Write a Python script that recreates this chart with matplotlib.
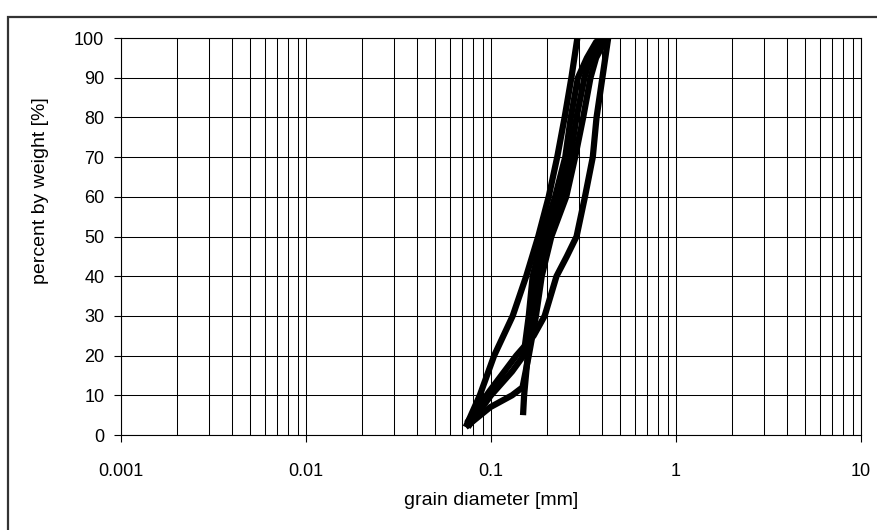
import matplotlib
matplotlib.use("Agg")
import matplotlib.pyplot as plt
from matplotlib.patches import Rectangle
from matplotlib.ticker import LogLocator, FixedLocator, NullFormatter, FixedFormatter

plt.rcParams['font.family'] = ['Liberation Sans', 'DejaVu Sans']

# grain size distribution curves (diameter mm, percent passing)
curve_a_x = [0.073, 0.087, 0.104, 0.131, 0.155, 0.180, 0.205, 0.228, 0.250, 0.272, 0.293]
curve_a_y = [2, 10, 20, 30, 40, 50, 60, 70, 80, 90, 100]

curve_b_x = [0.074, 0.098, 0.137, 0.170, 0.195, 0.226, 0.257, 0.290, 0.322, 0.355, 0.372, 0.400, 0.430]
curve_b_y = [3, 11, 20, 25, 30, 40, 45, 50, 60, 70, 80, 90, 100]

curve_c_x = [0.073, 0.099, 0.130, 0.148, 0.160, 0.175, 0.188, 0.212, 0.255, 0.285, 0.315, 0.345, 0.370, 0.400, 0.430]
curve_c_y = [2, 7, 10, 12, 20, 30, 40, 50, 60, 70, 80, 90, 95, 98, 100]

curve_d_x = [0.149, 0.151, 0.158, 0.165, 0.178, 0.200, 0.238, 0.268, 0.290, 0.320, 0.345, 0.390, 0.420]
curve_d_y = [5, 10, 20, 30, 40, 50, 60, 70, 80, 90, 95, 98, 100]

curve_e_x = [0.075, 0.100, 0.130, 0.150, 0.160, 0.168, 0.190, 0.222, 0.252, 0.270, 0.295, 0.330, 0.370, 0.425]
curve_e_y = [2, 10, 16, 20, 30, 40, 50, 60, 70, 80, 90, 95, 99, 100]

x_ticks = [0.001, 0.01, 0.1, 1, 10]
x_tick_labels = ["0.001", "0.01", "0.1", "1", "10"]
y_ticks = [0, 10, 20, 30, 40, 50, 60, 70, 80, 90, 100]

fig = plt.figure(figsize=(8.77, 5.30), dpi=100)
fig.patch.set_facecolor('white')
ax = fig.add_axes([121/877, 1-435/530, 740/877, 397/530])

# outer frame (cut off at right and bottom)
fig.patches.append(Rectangle((8/877, -0.1), 1.2, 1.1 - 17/530,
                             transform=fig.transFigure, fill=False,
                             edgecolor='#333333', linewidth=1.6))

for xs, ys in [(curve_a_x, curve_a_y), (curve_b_x, curve_b_y), (curve_c_x, curve_c_y),
               (curve_d_x, curve_d_y), (curve_e_x, curve_e_y)]:
    ax.plot(xs, ys, color='black', linewidth=4.5, solid_capstyle='butt',
            solid_joinstyle='round', zorder=3)

ax.set_xscale('log')
ax.set_xlim(0.001, 10)
ax.set_ylim(0, 100)

ax.xaxis.set_major_locator(FixedLocator(x_ticks))
ax.xaxis.set_major_formatter(FixedFormatter(x_tick_labels))
ax.xaxis.set_minor_locator(LogLocator(base=10, subs=range(2, 10), numticks=20))
ax.xaxis.set_minor_formatter(NullFormatter())
ax.set_yticks(y_ticks)

ax.grid(True, which='major', axis='both', color='black', linewidth=0.75)
ax.grid(True, which='minor', axis='x', color='black', linewidth=0.75)
ax.set_axisbelow(True)

ax.tick_params(axis='x', which='major', direction='out', length=5, width=0.8,
               pad=15, labelsize=13)
ax.tick_params(axis='x', which='minor', length=0)
ax.tick_params(axis='y', direction='out', length=5, width=0.8, pad=7, labelsize=13)

for s in ax.spines.values():
    s.set_color('black')
    s.set_linewidth(0.8)

ax.set_xlabel('grain diameter [mm]', fontsize=14, labelpad=9)
ax.set_ylabel('percent by weight [%]', fontsize=14)
ax.yaxis.set_label_coords(-0.109, 0.615)
ax.yaxis.label.set_verticalalignment('center')

fig.savefig('out.png', dpi=100, facecolor='white')
